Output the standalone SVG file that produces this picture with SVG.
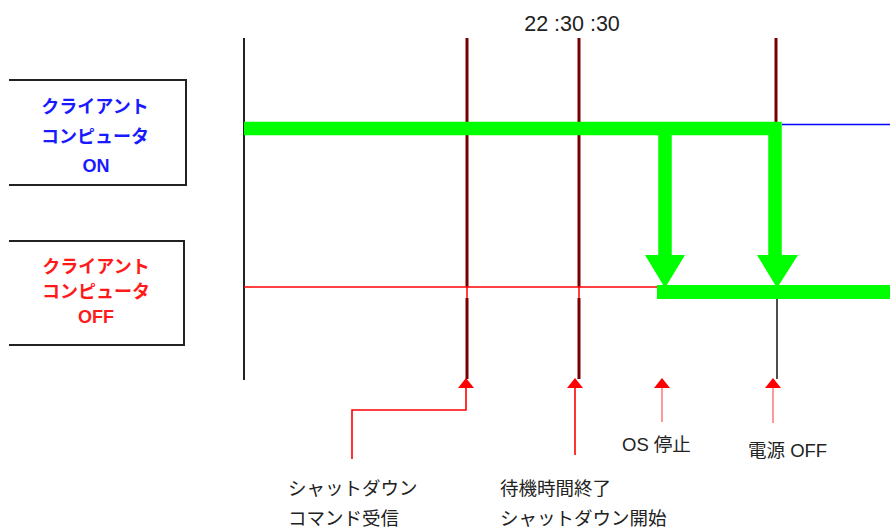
<svg xmlns="http://www.w3.org/2000/svg" width="890" height="530" viewBox="0 0 890 530">
<style>
text{font-family:"Liberation Sans","Noto Sans CJK JP",sans-serif;}
.box{fill:none;stroke:#222;stroke-width:2;}
.bt{font-size:18px;text-anchor:middle;font-weight:600;}
.lbl{font-size:18.5px;fill:#222;}
.dr{stroke:#7a0000;stroke-width:3;fill:none;}
.ra{stroke:#ff0000;stroke-width:1.6;fill:none;}
.rp{stroke:#ff7f7f;stroke-width:1.6;fill:none;}
.g{stroke:#00ff00;stroke-width:13.5;fill:none;}
</style>
<defs>
<marker id="ah" markerWidth="10" markerHeight="16" refX="9" refY="8" orient="auto" markerUnits="userSpaceOnUse" viewBox="0 0 10 16">
<path d="M0,0 L10,8 L0,16 Z" fill="#ff0000"/>
</marker>
</defs>
<g id="node-on">
<path class="box" d="M9,80 H186 V185 H9"/>
<text class="bt" x="95" y="113" fill="#1a1aff">クライアント</text>
<text class="bt" x="95" y="143" fill="#1a1aff">コンピュータ</text>
<text class="bt" x="96" y="172" fill="#1a1aff">ON</text>
</g>
<g id="node-off">
<path class="box" d="M9,241 H184 V345 H9"/>
<text class="bt" x="96" y="273" fill="#ff1a1a">クライアント</text>
<text class="bt" x="96" y="298" fill="#ff1a1a">コンピュータ</text>
<text class="bt" x="96" y="323" fill="#ff1a1a">OFF</text>
</g>
<g id="time-label">
<text x="572" y="31" font-size="21.5" text-anchor="middle" fill="#222">22 :30 :30</text>
</g>
<g id="connectors">
<line x1="244" y1="38" x2="244" y2="380" stroke="#222" stroke-width="2"/>
<line class="dr" x1="467" y1="38" x2="467" y2="287"/>
<line class="dr" x1="467" y1="298" x2="467" y2="379"/>
<line class="dr" x1="579" y1="38" x2="579" y2="287"/>
<line class="dr" x1="579" y1="298" x2="579" y2="379"/>
<line x1="467" y1="287" x2="467" y2="298" stroke="#ff0000" stroke-width="1.5"/>
<line x1="579" y1="287" x2="579" y2="298" stroke="#ff0000" stroke-width="1.5"/>
<line class="dr" x1="776" y1="38" x2="776" y2="122"/>
<line x1="777" y1="299" x2="777" y2="379" stroke="#222" stroke-width="1.6"/>
<line x1="244" y1="287" x2="657" y2="287" stroke="#ff0000" stroke-width="1.5"/>
<line x1="782" y1="124.5" x2="890" y2="124.5" stroke="#0000ff" stroke-width="1.6"/>
<path class="g" d="M244,128.5 H775 V258"/>
<path class="g" d="M665,128.5 V258"/>
<polygon points="645,255 685,255 665,288" fill="#00ff00"/>
<polygon points="757,255 798,255 777,288" fill="#00ff00"/>
<rect x="657" y="285" width="233" height="14" fill="#00ff00"/>
<path class="ra" d="M352,459 V410 H466 V379" marker-end="url(#ah)"/>
<path class="ra" d="M575,455 V379" marker-end="url(#ah)"/>
<path class="rp" d="M662,422 V379" marker-end="url(#ah)"/>
<path class="rp" d="M773,423 V379" marker-end="url(#ah)"/>
</g>
<g id="label-cmd">
<text class="lbl" x="288" y="495">シャットダウン</text>
<text class="lbl" x="288" y="525">コマンド受信</text>
</g>
<g id="label-wait">
<text class="lbl" x="500" y="495">待機時間終了</text>
<text class="lbl" x="500" y="525">シャットダウン開始</text>
</g>
<g id="label-os">
<text class="lbl" x="622" y="451">OS 停止</text>
</g>
<g id="label-power">
<text class="lbl" x="748" y="457">電源 OFF</text>
</g>
</svg>
